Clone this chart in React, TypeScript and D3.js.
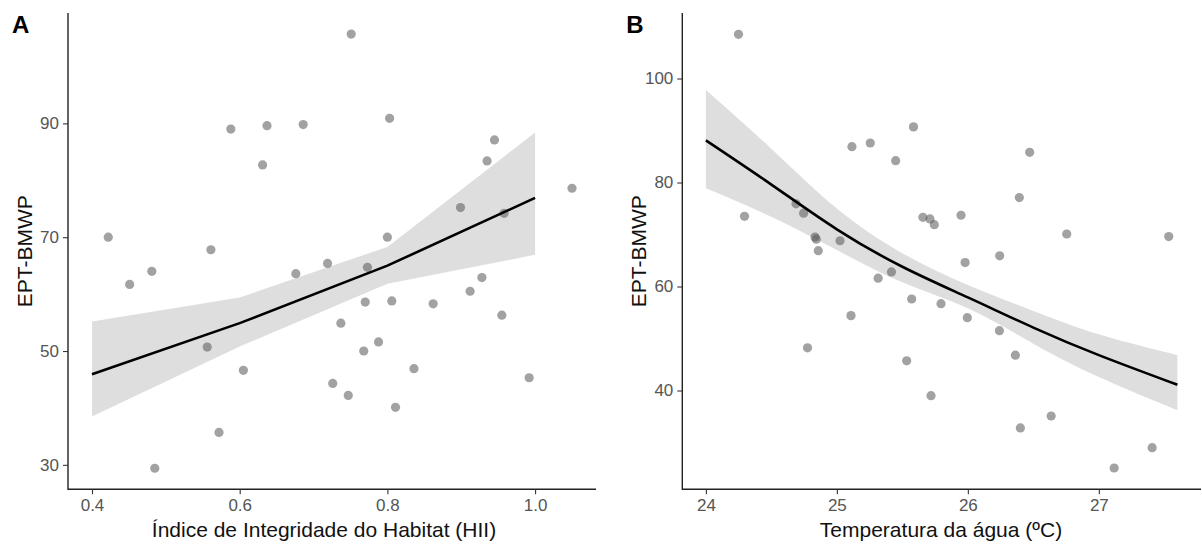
import React, { useRef, useEffect } from "react";
import * as d3 from "d3";

// Panel A: EPT-BMWP vs habitat integrity index
const hiiX = [0.422, 0.451, 0.481, 0.485, 0.556, 0.561, 0.572, 0.588, 0.605, 0.631, 0.637, 0.676, 0.686, 0.719, 0.726, 0.737, 0.747, 0.751, 0.768, 0.77, 0.773, 0.788, 0.8, 0.803, 0.806, 0.811, 0.836, 0.862, 0.899, 0.912, 0.928, 0.935, 0.945, 0.955, 0.958, 0.992, 1.05];
const hiiY = [70.0, 61.7, 64.0, 29.4, 50.7, 67.8, 35.7, 89.0, 46.6, 82.7, 89.6, 63.6, 89.8, 65.4, 44.3, 54.9, 42.2, 105.7, 50.0, 58.6, 64.7, 51.6, 70.0, 90.9, 58.8, 40.1, 46.9, 58.3, 75.2, 60.5, 62.9, 83.4, 87.1, 56.3, 74.2, 45.3, 78.6];
const hiiFitX = [0.4, 0.6, 0.8, 1.0];
const hiiFit = [45.9, 54.9, 65.0, 76.9];
const hiiLower = [38.5, 50.8, 61.8, 66.9];
const hiiUpper = [55.2, 59.4, 68.3, 88.4];
const hiiXTicks = [0.4, 0.6, 0.8, 1.0];
const hiiYTicks = [30, 50, 70, 90];

// Panel B: EPT-BMWP vs water temperature
const tempX = [24.249, 24.295, 24.688, 24.746, 24.776, 24.833, 24.843, 24.858, 25.024, 25.108, 25.115, 25.255, 25.315, 25.417, 25.449, 25.533, 25.571, 25.585, 25.657, 25.711, 25.719, 25.744, 25.795, 25.948, 25.979, 25.996, 26.241, 26.243, 26.363, 26.393, 26.401, 26.472, 26.636, 26.755, 27.117, 27.407, 27.534];
const tempY = [108.5, 73.5, 75.9, 74.1, 48.2, 69.5, 69.1, 66.9, 68.8, 54.4, 86.9, 87.6, 61.6, 62.8, 84.2, 45.7, 57.6, 90.7, 73.3, 73.0, 39.0, 71.9, 56.7, 73.7, 64.6, 54.0, 51.5, 65.9, 46.8, 77.1, 32.8, 85.8, 35.1, 70.1, 25.1, 29.0, 69.6];
const tempFitX = [24, 24.5, 25, 25.5, 26, 26.5, 27, 27.6];
const tempFit = [88.1, 79.6, 71.0, 63.8, 57.9, 52.1, 46.8, 41.1];
const tempLower = [78.9, 73.4, 67.0, 60.8, 55.8, 49.0, 42.6, 36.2];
const tempUpper = [97.8, 86.5, 75.0, 66.4, 60.3, 55.3, 50.8, 46.8];
const tempXTicks = [24, 25, 26, 27];
const tempYTicks = [40, 60, 80, 100];

const FONT = "Liberation Sans, Arial, Helvetica, sans-serif";

function drawPanel(root, opts) {
  const { left, right, top, bottom, xDomain, yDomain, xs, ys, fitX, fit, lower, upper, xTicks, yTicks, xFormat, curve, tag, xTitle, titleX } = opts;

  const x = d3.scaleLinear().domain(xDomain).range([left, right]);
  const y = d3.scaleLinear().domain(yDomain).range([bottom, top]);
  const g = root.append("g");

  const band = fitX.map((v, i) => ({ x: v, lo: lower[i], hi: upper[i], m: fit[i] }));

  // confidence ribbon
  g.append("path")
    .datum(band)
    .attr("fill", "#dedede")
    .attr("d", d3.area().x((d) => x(d.x)).y0((d) => y(d.lo)).y1((d) => y(d.hi)).curve(curve));

  // points
  g.selectAll("circle")
    .data(xs.map((v, i) => [v, ys[i]]))
    .enter()
    .append("circle")
    .attr("cx", (d) => x(d[0]))
    .attr("cy", (d) => y(d[1]))
    .attr("r", 4.6)
    .attr("fill", "#555")
    .attr("fill-opacity", 0.55);

  // fitted line
  g.append("path")
    .datum(band)
    .attr("fill", "none")
    .attr("stroke", "#000")
    .attr("stroke-width", 2.6)
    .attr("d", d3.line().x((d) => x(d.x)).y((d) => y(d.m)).curve(curve));

  // axes
  const ax = g.append("g")
    .attr("transform", `translate(0, ${bottom})`)
    .call(d3.axisBottom(x).tickValues(xTicks).tickFormat(xFormat).tickSizeInner(5).tickSizeOuter(0).tickPadding(5));
  const ay = g.append("g")
    .attr("transform", `translate(${left}, 0)`)
    .call(d3.axisLeft(y).tickValues(yTicks).tickSizeInner(5).tickSizeOuter(0).tickPadding(4));

  [ax, ay].forEach((a) => {
    a.select(".domain").attr("stroke", "#222").attr("stroke-width", 1.4);
    a.selectAll(".tick line").attr("stroke", "#333").attr("stroke-width", 1.1);
    a.selectAll(".tick text").attr("fill", "#555").attr("font-size", "17px").attr("font-family", FONT);
  });
  ay.select(".domain").attr("d", `M0,${bottom + 0.7}V${top}`);
  ax.select(".domain").attr("d", `M${left},0H${right}`);

  // titles
  g.append("text")
    .attr("x", titleX)
    .attr("y", 537)
    .attr("text-anchor", "middle")
    .attr("font-family", FONT)
    .attr("font-size", "21px")
    .attr("fill", "#111")
    .text(xTitle);

  g.append("text")
    .attr("transform", `translate(${left - 36}, ${(top + bottom) / 2}) rotate(-90)`)
    .attr("text-anchor", "middle")
    .attr("font-family", FONT)
    .attr("font-size", "21px")
    .attr("fill", "#111")
    .text("EPT-BMWP");

  g.append("text")
    .attr("x", left - 56)
    .attr("y", 33)
    .attr("font-family", FONT)
    .attr("font-size", "24px")
    .attr("font-weight", "bold")
    .attr("fill", "#000")
    .text(tag);
}

export default function App() {
  const svgRef = useRef(null);

  useEffect(() => {
    const svg = d3.select(svgRef.current);
    svg.selectAll("*").remove();

    drawPanel(svg, {
      left: 68, right: 596, top: 13, bottom: 489.3,
      xDomain: [0.3675, 1.0825], yDomain: [25.7, 109.4],
      xs: hiiX, ys: hiiY,
      fitX: hiiFitX, fit: hiiFit, lower: hiiLower, upper: hiiUpper,
      xTicks: hiiXTicks, yTicks: hiiYTicks, xFormat: d3.format(".1f"),
      curve: d3.curveLinear, tag: "A", titleX: 324,
      xTitle: "Índice de Integridade do Habitat (HII)",
    });

    drawPanel(svg, {
      left: 682.3, right: 1201, top: 13, bottom: 489.3,
      xDomain: [23.82, 27.78], yDomain: [21.0, 112.6],
      xs: tempX, ys: tempY,
      fitX: tempFitX, fit: tempFit, lower: tempLower, upper: tempUpper,
      xTicks: tempXTicks, yTicks: tempYTicks, xFormat: d3.format("d"),
      curve: d3.curveNatural, tag: "B", titleX: 941,
      xTitle: "Temperatura da água (ºC)",
    });

    return () => svg.selectAll("*").remove();
  }, []);

  return (
    <svg
      ref={svgRef}
      width={1202}
      height={544}
      style={{ position: "absolute", left: 0, top: 0, background: "#fff" }}
    />
  );
}
